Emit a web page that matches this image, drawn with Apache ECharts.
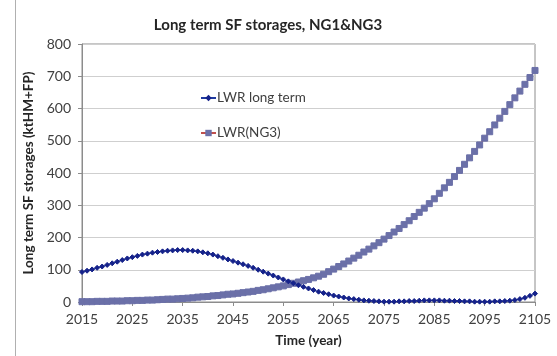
<!DOCTYPE html>
<html>
<head>
<meta charset="utf-8">
<script src="https://cdn.jsdelivr.net/npm/echarts@6/dist/echarts.min.js"></script>
<style>
  html, body { margin: 0; padding: 0; background: #fff; }
  #chart { width: 557px; height: 356px; }
</style>
</head>
<body>
<div id="chart"></div>
<script>
// Years 2015..2105, one point per year
const years = [];
for (let y = 2015; y <= 2105; y++) years.push(String(y));

// LWR long-term spent fuel storage (ktHM+FP)
const lwrLongTerm = [
  93, 97, 101, 106, 110, 115, 120, 125, 130, 135,
  139, 143, 147, 150, 153, 155, 157, 159, 160, 161,
  161, 160, 159, 157, 154, 151, 147, 142, 137, 132,
  127, 122, 117, 112, 106, 100, 94, 88, 82, 76,
  70, 64, 58, 52, 47, 42, 37, 32, 28, 24,
  20, 17, 14, 11, 9, 7, 5, 4, 3, 2,
  1, 1, 1, 2, 2, 3, 3, 4, 5, 5,
  5, 5, 4, 4, 3, 3, 2, 2, 1, 1,
  1, 1, 2, 2, 3, 4, 6, 9, 13, 19,
  26
];

// LWR storage under the NG3 scenario (ktHM+FP)
const lwrNG3 = [
  1, 1, 1, 2, 2, 2, 3, 3, 3, 4,
  4, 5, 5, 6, 6, 7, 8, 9, 9, 10,
  11, 12, 13, 15, 16, 17, 19, 20, 22, 24,
  25, 27, 29, 31, 33, 36, 38, 41, 44, 47,
  50, 54, 58, 62, 66, 70, 75, 80, 86, 94,
  102, 110, 118, 127, 136, 145, 155, 164, 174, 184,
  195, 206, 217, 228, 240, 252, 265, 278, 291, 305,
  320, 337, 354, 371, 389, 408, 427, 447, 467, 487,
  508, 528, 549, 570, 591, 612, 633, 654, 675, 696,
  718
];

const seriesNames = ['LWR long term', 'LWR(NG3)'];

const chart = echarts.init(document.getElementById('chart'), null, { renderer: 'canvas' });
const txt = '#404040';
const font = 'Lato, "Open Sans", sans-serif';

chart.setOption({
  animation: false,
  backgroundColor: '#fff',
  title: {
    text: 'Long term SF storages, NG1&NG3',
    left: 263, top: 13, textAlign: 'center',
    textStyle: { fontFamily: font, fontSize: 15, fontWeight: 'bold', color: '#262626' }
  },
  graphic: [{
    type: 'line', shape: { x1: 15.5, y1: 0, x2: 15.5, y2: 356 },
    style: { stroke: '#b0b0b0', lineWidth: 1 }, silent: true
  }],
  legend: {
    orient: 'vertical', left: 195, top: 86, itemGap: 21,
    itemWidth: 15, itemHeight: 8,
    textStyle: { fontFamily: font, fontSize: 13.5, color: txt, padding: [0, 0, 0, -4] },
    data: seriesNames
  },
  grid: {
    left: 82, right: 22, top: 44, bottom: 54,
    show: true, borderColor: '#8c8c8c', borderWidth: 1
  },
  xAxis: {
    type: 'category', data: years, boundaryGap: false,
    name: 'Time (year)', nameLocation: 'middle', nameGap: 32,
    nameTextStyle: { fontFamily: font, fontSize: 13.5, fontWeight: 'bold', color: '#262626' },
    axisLine: { lineStyle: { color: '#8c8c8c' } },
    axisTick: { interval: 9, length: 4, lineStyle: { color: '#8c8c8c' } },
    axisLabel: { interval: 9, margin: 10, fontFamily: font, fontSize: 14, color: txt },
    splitLine: { show: false }
  },
  yAxis: {
    type: 'value', min: 0, max: 800, interval: 100,
    name: 'Long term SF storages (ktHM+FP)', nameLocation: 'middle', nameGap: 46,
    nameTextStyle: { fontFamily: font, fontSize: 13.5, fontWeight: 'bold', color: '#262626' },
    axisLine: { show: true, lineStyle: { color: '#8c8c8c' } },
    axisTick: { show: true, length: 4, lineStyle: { color: '#8c8c8c' } },
    axisLabel: { margin: 11, fontFamily: font, fontSize: 14, color: txt },
    splitLine: { lineStyle: { color: '#cfcfcf' } }
  },
  series: [
    {
      name: seriesNames[1], type: 'line', data: lwrNG3,
      symbol: 'rect', symbolSize: 6, showAllSymbol: true,
      lineStyle: { color: '#c0504d', width: 1.2 },
      itemStyle: { color: '#6b70a8', borderColor: '#6b70a8' },
      z: 2
    },
    {
      name: seriesNames[0], type: 'line', data: lwrLongTerm,
      symbol: 'diamond', symbolSize: 5, showAllSymbol: true,
      lineStyle: { color: '#1f3aa0', width: 1 },
      itemStyle: { color: '#15228a', borderColor: '#15228a' },
      z: 3
    }
  ]
});
</script>
</body>
</html>
